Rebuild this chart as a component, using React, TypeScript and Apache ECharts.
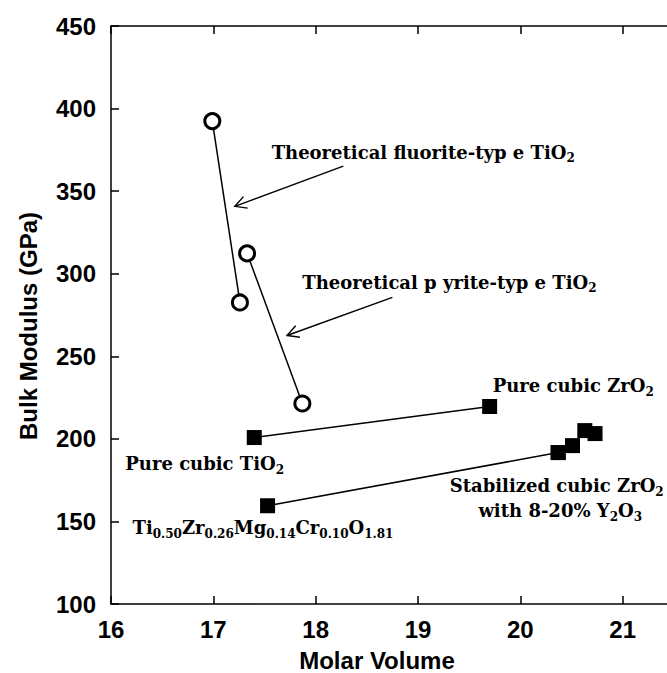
import React, { useEffect, useRef } from "react";
import * as echarts from "echarts";

// ---- data (Molar Volume, Bulk Modulus GPa) ----
const fluoriteTiO2 = [
  [16.99, 392.4],
  [17.26, 282.6],
];
const pyriteTiO2 = [
  [17.33, 312.3],
  [17.87, 221.4],
];
const pureCubic = [
  [17.4, 200.8],
  [19.7, 219.6],
];
const mixedOxide = [[17.53, 159.5]];
const stabilizedZrO2 = [
  [20.37, 191.7],
  [20.51, 195.9],
  [20.63, 205.0],
  [20.73, 203.2],
];
const visibleXTicks = [16, 17, 18, 19, 20, 21];

// annotation anchors in data units (left edge, vertical centre)
const labelAnchors = {
  fluorite: [17.57, 373.6],
  pyrite: [17.87, 294.8],
  zro2: [19.73, 232.3],
  tio2: [16.14, 185.0],
  stab1: [19.31, 171.6],
  stab2: [19.59, 156.5],
  formula: [16.21, 146.2],
};
// arrows: [from, to] in data units
const arrows = [
  [[18.27, 365.1], [17.21, 340.8]],
  [[18.75, 285.7], [17.72, 262.6]],
];

const SERIF = "DejaVu Serif";
const SANS = "Liberation Sans";
const FS = 18;
const SUB = 12;

const rich = {
  n: { fontFamily: SERIF, fontWeight: "bold", fontSize: FS, lineHeight: 24, color: "#000" },
  s: { fontFamily: SERIF, fontWeight: "bold", fontSize: SUB, verticalAlign: "bottom", color: "#000" },
};

const labelTexts: Record<string, string> = {
  fluorite: "{n|Theoretical fluorite-typ e TiO}{s|2}",
  pyrite: "{n|Theoretical p yrite-typ e TiO}{s|2}",
  zro2: "{n|Pure cubic ZrO}{s|2}",
  tio2: "{n|Pure cubic TiO}{s|2}",
  stab1: "{n|Stabilized cubic ZrO}{s|2}",
  stab2: "{n|with 8-20% Y}{s|2}{n|O}{s|3}",
  formula: "{n|Ti}{s|0.50}{n|Zr}{s|0.26}{n|Mg}{s|0.14}{n|Cr}{s|0.10}{n|O}{s|1.81}",
};

export default function App() {
  const ref = useRef<HTMLDivElement>(null);
  useEffect(() => {
    if (!ref.current) return;
    const chart = echarts.init(ref.current, null, { renderer: "svg" });
    const axisLine = { show: true, lineStyle: { color: "#000", width: 1.5 } };
    const tickIn = { show: true, inside: true, length: 8, lineStyle: { color: "#000", width: 1.5 } };
    const lineSeries = (data: number[][], symbol: string, size: number, empty: boolean) => ({
      type: "line",
      data,
      symbol,
      symbolSize: size,
      showSymbol: true,
      lineStyle: { color: "#000", width: 1.5 },
      itemStyle: empty
        ? { color: "#fff", borderColor: "#000", borderWidth: 3, opacity: 1 }
        : { color: "#000", borderColor: "#000", borderWidth: 0, opacity: 1 },
      z: 3,
    });
    chart.setOption({
      animation: false,
      backgroundColor: "#fff",
      grid: { left: 111, top: 26, width: 614, height: 578, outerBoundsMode: "none" },
      xAxis: [
        {
          type: "value",
          min: 16,
          max: 22,
          interval: 1,
          position: "bottom",
          axisLine,
          axisTick: tickIn,
          splitLine: { show: false },
          axisLabel: {
            color: "#000",
            fontFamily: SANS,
            fontWeight: "bold",
            fontSize: 24,
            margin: 13,
            formatter: (v: number) => (visibleXTicks.indexOf(v) >= 0 ? String(v) : ""),
          },
        },
        {
          type: "value",
          min: 16,
          max: 22,
          interval: 1,
          position: "top",
          axisLine,
          axisTick: tickIn,
          splitLine: { show: false },
          axisLabel: { show: false },
        },
      ],
      yAxis: [
        {
          type: "value",
          min: 100,
          max: 450,
          interval: 50,
          position: "left",
          axisLine,
          axisTick: tickIn,
          splitLine: { show: false },
          axisLabel: { color: "#000", fontFamily: SANS, fontWeight: "bold", fontSize: 24, margin: 15 },
        },
        {
          type: "value",
          min: 100,
          max: 450,
          interval: 50,
          position: "right",
          axisLine,
          axisTick: tickIn,
          splitLine: { show: false },
          axisLabel: { show: false },
        },
      ],
      series: [
        lineSeries(fluoriteTiO2, "circle", 15, true),
        lineSeries(pyriteTiO2, "circle", 15, true),
        lineSeries(pureCubic, "rect", 15, false),
        lineSeries([mixedOxide[0], stabilizedZrO2[0]], "rect", 15, false),
        {
          type: "scatter",
          data: stabilizedZrO2,
          symbol: "rect",
          symbolSize: 15,
          itemStyle: { color: "#000", opacity: 1 },
          z: 4,
        },
      ],
    });

    const px = (p: number[]) => chart.convertToPixel({ gridIndex: 0 }, p) as number[];
    const graphics: any[] = [];
    Object.keys(labelAnchors).forEach((k) => {
      const p = px((labelAnchors as any)[k]);
      graphics.push({
        type: "text",
        x: p[0],
        y: p[1],
        z: 10,
        style: { text: labelTexts[k], rich, align: "left", verticalAlign: "middle" },
      });
    });
    arrows.forEach(([a, b]) => {
      const s = px(a);
      const e = px(b);
      const dx = s[0] - e[0];
      const dy = s[1] - e[1];
      const len = Math.hypot(dx, dy);
      const ux = dx / len;
      const uy = dy / len;
      const L = 13;
      const ang = (28 * Math.PI) / 180;
      const rot = (t: number) => [
        e[0] + L * (ux * Math.cos(t) - uy * Math.sin(t)),
        e[1] + L * (ux * Math.sin(t) + uy * Math.cos(t)),
      ];
      graphics.push({
        type: "line",
        z: 10,
        shape: { x1: s[0], y1: s[1], x2: e[0], y2: e[1] },
        style: { stroke: "#000", lineWidth: 1.4 },
      });
      graphics.push({
        type: "polyline",
        z: 10,
        shape: { points: [rot(ang), e, rot(-ang)] },
        style: { stroke: "#000", lineWidth: 1.4, fill: null },
      });
    });
    graphics.push({
      type: "text",
      x: 28,
      y: 326,
      rotation: Math.PI / 2,
      z: 10,
      style: {
        text: "Bulk Modulus (GPa)",
        fontFamily: SANS,
        fontWeight: "bold",
        fontSize: 24,
        fill: "#000",
        align: "center",
        verticalAlign: "middle",
      },
    });
    graphics.push({
      type: "text",
      x: 377,
      y: 660,
      z: 10,
      style: {
        text: "Molar Volume",
        fontFamily: SANS,
        fontWeight: "bold",
        fontSize: 24,
        fill: "#000",
        align: "center",
        verticalAlign: "middle",
      },
    });
    chart.setOption({ graphic: graphics });

    return () => chart.dispose();
  }, []);
  return (
    <div
      ref={ref}
      style={{ position: "fixed", left: 0, top: 0, width: 667, height: 673, background: "#fff" }}
    />
  );
}
